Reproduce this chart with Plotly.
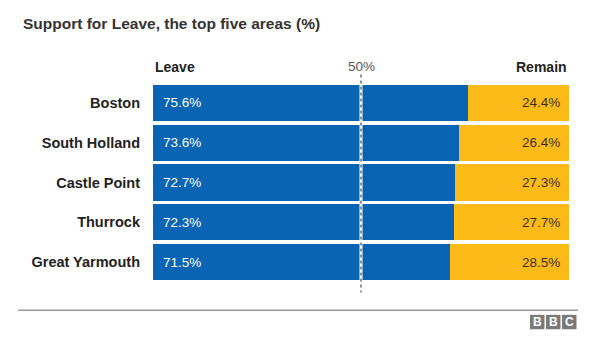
import plotly.graph_objects as go

areas = ["Boston", "South Holland", "Castle Point", "Thurrock", "Great Yarmouth"]
leave = [75.6, 73.6, 72.7, 72.3, 71.5]
remain = [24.4, 26.4, 27.3, 27.7, 28.5]

BLUE = "#0a64b4"
YELLOW = "#fdbb1a"
FONT = "Liberation Sans, Arial, sans-serif"

fig = go.Figure()
fig.add_trace(go.Bar(
    y=areas, x=leave, orientation="h", marker=dict(color=BLUE, line=dict(width=0)),
    width=0.91, hoverinfo="skip",
))
fig.add_trace(go.Bar(
    y=areas, x=remain, orientation="h", marker=dict(color=YELLOW, line=dict(width=0)),
    width=0.91, hoverinfo="skip",
))

W, H = 600, 338
L, R, T, B = 153, 31, 82.5, 55.5

def py(pix):
    return 1 - (pix - T) / (H - T - B)

def px(pix):
    return (pix - L) / (W - L - R)

shapes = [
    dict(type="line", xref="x", yref="paper", x0=50, x1=50, y0=py(74), y1=py(293),
         line=dict(color="white", width=3)),
    dict(type="line", xref="x", yref="paper", x0=50, x1=50, y0=py(74), y1=py(293),
         line=dict(color="#222222", width=1, dash="dot")),
    dict(type="line", xref="paper", yref="paper", x0=px(18), x1=px(578), y0=py(311), y1=py(311),
         line=dict(color="#9a9a9a", width=1.5)),
]
annotations = [
    dict(text="<b>Support for Leave, the top five areas (%)</b>", xref="paper", yref="paper",
         x=px(21), y=py(23), xanchor="left", yanchor="middle", showarrow=False,
         font=dict(size=15.5, color="#333333", family=FONT)),
    dict(text="<b>Leave</b>", xref="paper", yref="paper", x=px(153), y=py(66),
         xanchor="left", yanchor="middle", showarrow=False,
         font=dict(size=14, color="#222222", family=FONT)),
    dict(text="<b>Remain</b>", xref="paper", yref="paper", x=px(569), y=py(66),
         xanchor="right", yanchor="middle", showarrow=False,
         font=dict(size=14, color="#222222", family=FONT)),
    dict(text="50%", xref="x", yref="paper", x=50, y=py(66),
         xanchor="center", yanchor="middle", showarrow=False,
         font=dict(size=13.5, color="#555555", family=FONT)),
]
for a, lv, rm in zip(areas, leave, remain):
    annotations.append(dict(text=f"{lv}%", xref="x", yref="y", x=0, y=a, xshift=8,
                            xanchor="left", yanchor="middle", showarrow=False,
                            font=dict(size=13.5, color="white", family=FONT)))
    annotations.append(dict(text=f"{rm}%", xref="x", yref="y", x=100, y=a, xshift=-7,
                            xanchor="right", yanchor="middle", showarrow=False,
                            font=dict(size=13.5, color="#3a3020", family=FONT)))
# BBC logo
bx = [530, 546, 562]
for i, letter in enumerate("BBC"):
    shapes.append(dict(type="rect", xref="paper", yref="paper",
                       x0=px(bx[i]), x1=px(bx[i] + 14.5), y0=py(315.5), y1=py(330),
                       fillcolor="#7a7a7a", line=dict(width=0)))
    annotations.append(dict(text=f"<b>{letter}</b>", xref="paper", yref="paper",
                            x=px(bx[i] + 7.25), y=py(322.8), xanchor="center", yanchor="middle",
                            showarrow=False, font=dict(size=12, color="white", family=FONT)))

fig.update_layout(
    width=W, height=H, barmode="stack", bargap=0.09, showlegend=False,
    margin=dict(l=L, r=R, t=T, b=B, autoexpand=False),
    paper_bgcolor="white", plot_bgcolor="white",
    xaxis=dict(range=[0, 100], visible=False, fixedrange=True),
    yaxis=dict(autorange=False, range=[4.5, -0.5], showgrid=False, zeroline=False, showline=False,
               ticks="", ticklabelstandoff=12,
               tickfont=dict(size=14.5, color="#222222", family=FONT),
               tickvals=list(range(len(areas))), ticktext=[f"<b>{a}</b>" for a in areas]),
    shapes=shapes, annotations=annotations,
)
fig.write_html("out.html", config=dict(displayModeBar=False))
